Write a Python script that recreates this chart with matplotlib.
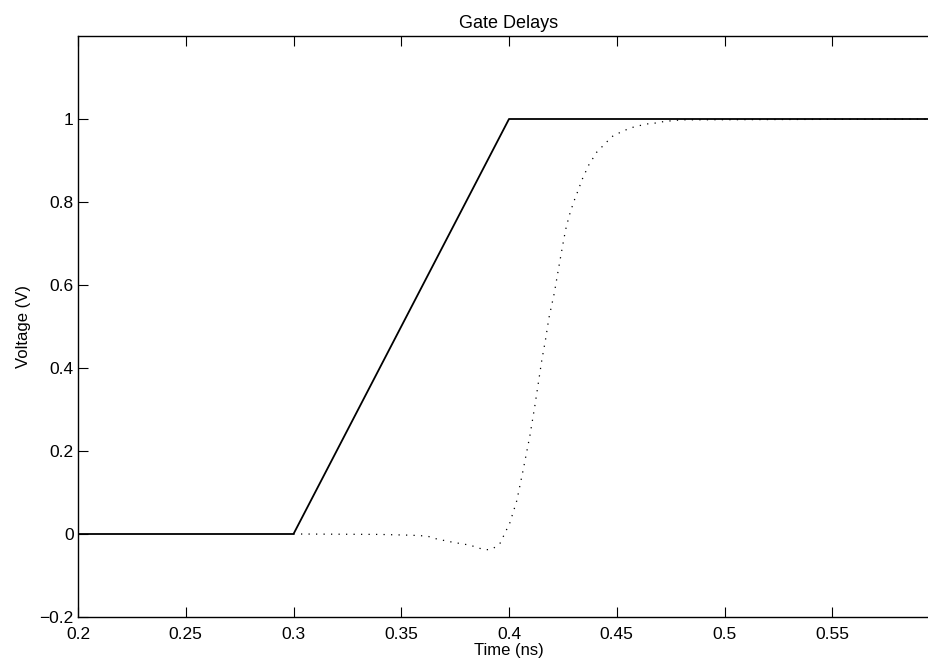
import matplotlib
matplotlib.use("Agg")
import matplotlib.pyplot as plt
import numpy as np

plt.rcParams['font.family'] = ['Liberation Sans', 'DejaVu Sans']

# input ramp (solid)
t_in = [0.2, 0.3, 0.4, 0.6]
v_in = [0.0, 0.0, 1.0, 1.0]

# gate output (dotted)
t_out = [0.3, 0.34, 0.355, 0.362, 0.3665, 0.374, 0.382, 0.386, 0.389, 0.392,
         0.3957, 0.4004, 0.4036, 0.4064, 0.4097, 0.412, 0.4135, 0.4152, 0.417,
         0.4185, 0.421, 0.423, 0.425, 0.4263, 0.428, 0.43, 0.4315, 0.434, 0.437,
         0.4407, 0.4458, 0.4486, 0.4523, 0.456, 0.4597, 0.4639, 0.4676, 0.472,
         0.48, 0.6]
v_out = [0.0, -0.001, -0.003, -0.005, -0.012, -0.02, -0.027, -0.034, -0.038, -0.037,
         -0.024, 0.027, 0.08, 0.15, 0.237, 0.309, 0.36, 0.418, 0.47,
         0.52, 0.58, 0.64, 0.698, 0.734, 0.768, 0.80, 0.82, 0.855, 0.889,
         0.92, 0.947, 0.961, 0.969, 0.978, 0.983, 0.988, 0.99, 0.994,
         0.998, 1.0]

xticks = [0.2, 0.25, 0.3, 0.35, 0.4, 0.45, 0.5, 0.55]
yticks = [-0.2, 0, 0.2, 0.4, 0.6, 0.8, 1]

fig = plt.figure(figsize=(9.29, 6.6), dpi=100)
# axes runs off the right edge like the scanned original
ax = fig.add_axes([78/929, 43/660, 862/929, 581/660])

ax.plot(t_in, v_in, color='black', lw=1.3)
ax.plot(t_out, v_out, color='black', lw=0.9, linestyle=(0, (1, 5.0)))

ax.set_xlim(0.2, 0.6)
ax.set_ylim(-0.2, 1.2)
ax.set_xticks(xticks)
ax.set_xticklabels(['0.2', '0.25', '0.3', '0.35', '0.4', '0.45', '0.5', '0.55'])
ax.set_yticks(yticks)
ax.set_yticklabels(['\u22120.2', '0', '0.2', '0.4', '0.6', '0.8', '1'])
ax.tick_params(direction='in', length=7, width=0.8, top=True, right=False,
               labelsize=12.5)
ax.tick_params(axis='x', pad=7)
ax.tick_params(axis='y', pad=3)
ax.spines['right'].set_visible(False)
for s in ax.spines.values():
    s.set_linewidth(1.0)

ax.set_title('Gate Delays', fontsize=13, pad=6)
ax.set_xlabel('Time (ns)', fontsize=12, labelpad=1)
ax.set_ylabel('Voltage (V)', fontsize=12, labelpad=6)

fig.savefig('out.png', dpi=100)
